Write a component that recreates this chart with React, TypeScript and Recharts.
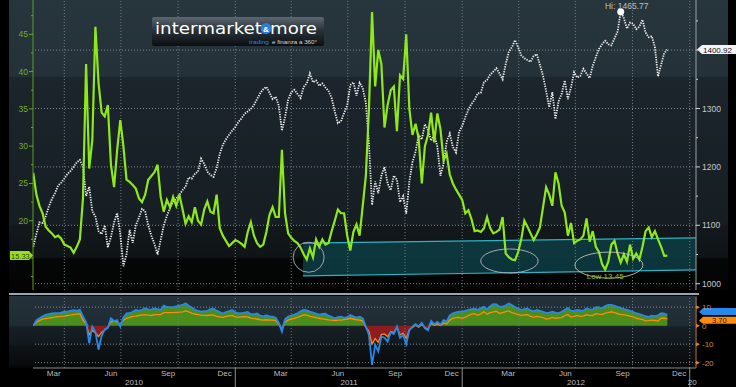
import React from 'react';
import { ComposedChart, Line, Area, XAxis, YAxis, ReferenceLine, ReferenceDot } from 'recharts';

// samples every 5 days, counted in days from 1 Jan 2010
const FIRST_DAY = 40;
const STEP_DAYS = 5;

const vix = [
  26.4, 23.5, 22.0, 21.0, 19.2, 18.7, 18.3, 17.8, 18.0, 17.6,
  16.8, 16.6, 16.4, 15.7, 16.5, 17.5, 23.0, 41.0, 27.0, 30.8,
  46.0, 38.5, 34.5, 34.0, 35.5, 27.5, 24.5, 29.5, 33.5, 30.0,
  25.5, 25.2, 24.8, 24.3, 23.0, 22.5, 23.5, 25.5, 26.0, 26.5,
  27.5, 23.2, 21.2, 22.8, 21.8, 23.2, 22.0, 23.5, 21.6, 19.6,
  20.6, 19.8, 21.8, 20.0, 19.5, 21.5, 22.6, 21.2, 21.0, 23.5,
  19.0, 18.0, 17.3, 16.6, 17.0, 17.4, 17.2, 16.9, 16.5, 18.5,
  19.8, 18.0, 17.0, 16.5, 16.8, 18.5, 20.8, 21.8, 20.5, 20.5,
  29.5, 21.0, 18.3, 17.7, 17.3, 17.0, 16.4, 15.5, 14.8, 16.3,
  15.1, 17.5, 16.5, 17.5, 16.8, 17.0, 18.6, 20.0, 21.5, 21.0,
  21.0, 18.0, 16.0, 18.5, 19.5, 18.0, 22.0, 26.0, 35.0, 48.0,
  38.0, 42.9, 41.0, 32.5, 35.5, 37.5, 38.0, 32.0, 39.5, 39.0,
  45.0, 35.0, 31.5, 33.0, 31.0, 25.0, 30.0, 31.5, 34.5, 30.5,
  34.4, 32.3, 28.1, 29.0, 26.2, 25.0, 24.2, 23.5, 22.8, 21.0,
  21.4, 20.2, 18.6, 18.7, 18.5, 19.0, 20.5, 19.0, 18.3, 18.5,
  18.8, 20.5, 15.6, 15.1, 14.8, 14.7, 15.8, 17.5, 20.0, 19.2,
  18.3, 17.4, 18.2, 19.1, 21.8, 24.5, 23.5, 22.0, 26.5, 25.0,
  22.0, 21.1, 18.0, 19.7, 17.0, 17.3, 17.5, 18.0, 20.3, 17.2,
  18.6, 16.5, 15.8, 14.2, 13.45, 14.5, 16.8, 17.3, 15.6, 14.4,
  15.5, 14.5, 16.8, 14.9, 15.6, 14.8, 16.5, 18.6, 19.1, 17.8,
  18.6, 17.5, 16.5, 15.3, 15.33,
];

const spx = [
  1063, 1085, 1105, 1104, 1115, 1132, 1145, 1155, 1168, 1173,
  1180, 1188, 1193, 1200, 1208, 1212, 1200, 1150, 1166, 1124,
  1115, 1090, 1085, 1100, 1062, 1080, 1105, 1121, 1085, 1030,
  1050, 1092, 1070, 1100, 1113, 1128, 1124, 1100, 1082, 1068,
  1050, 1075, 1100, 1116, 1130, 1140, 1146, 1152, 1160, 1166,
  1182, 1180, 1188, 1192, 1214, 1205, 1192, 1186, 1183, 1198,
  1222, 1238, 1247, 1255, 1262, 1268, 1277, 1283, 1291, 1295,
  1299, 1306, 1316, 1326, 1333, 1337, 1327, 1316, 1320, 1305,
  1262, 1285, 1315, 1328, 1332, 1325, 1318, 1337, 1343, 1360,
  1345, 1348, 1339, 1343, 1336, 1330, 1318, 1295, 1275, 1278,
  1292, 1305, 1340, 1345, 1322, 1344, 1335, 1310, 1240, 1135,
  1175, 1155, 1185, 1200, 1172, 1160, 1185, 1178, 1140, 1150,
  1120, 1175, 1208, 1226, 1255, 1247, 1273, 1263, 1245, 1255,
  1235, 1185, 1205, 1243, 1257, 1234, 1225, 1260, 1270, 1285,
  1298, 1308, 1315, 1326, 1327, 1345, 1349, 1358, 1363, 1369,
  1360, 1350, 1376, 1397, 1405, 1417, 1405, 1391, 1386, 1383,
  1380, 1390, 1393, 1375, 1356, 1330, 1302, 1328, 1282, 1312,
  1325, 1348, 1316, 1336, 1362, 1353, 1356, 1368, 1360, 1352,
  1373, 1388, 1402, 1410, 1416, 1410, 1408, 1420, 1432, 1465.77,
  1455, 1437, 1447, 1445, 1436, 1440, 1452, 1430, 1422, 1424,
  1405, 1355, 1375, 1395, 1400.92,
];

// lower panel: blue oscillator and its orange signal line
const oscBlue = [
  0, 2.8, 4.0, 5.0, 5.8, 6.3, 6.6, 6.7, 6.7, 7.1,
  7.6, 7.6, 8.0, 8.4, 8.0, 8.5, 5.0, 2.0, -9.5, -0.5,
  -3.5, -13.0, -5.5, -2.0, -1.2, 4.0, 2.5, 3.0, -0.5, 4.5,
  6.6, 6.7, 7.5, 8.5, 8.0, 8.6, 9.4, 8.8, 8.7, 9.3,
  9.0, 8.5, 10.8, 10.0, 10.0, 10.0, 10.4, 10.8, 11.2, 12.1,
  10.8, 9.8, 8.6, 8.0, 7.6, 7.8, 8.0, 8.9, 9.2, 8.1,
  7.3, 6.6, 7.4, 7.9, 8.5, 7.2, 6.7, 6.7, 7.1, 7.4,
  6.2, 6.2, 6.6, 5.5, 5.0, 5.6, 5.0, 4.9, 4.3, 1.5,
  -3.2, 3.5, 4.9, 5.5, 6.0, 6.6, 7.8, 8.5, 8.3, 7.6,
  7.1, 6.5, 6.0, 6.3, 6.5, 5.4, 4.8, 4.0, 4.6, 4.8,
  4.2, 4.6, 5.7, 5.0, 4.4, 4.9, 4.0, -0.5, -5.0, -21.2,
  -10.4, -14.0, -6.0, -6.5, -8.6, -3.5, -4.5, -0.5, -6.6, -5.0,
  -10.0, -2.5, -0.6, 0.8, -0.5, 1.5, -1.5, -2.5, 2.5, 0.8,
  2.0, 0.6, 3.0, 2.3, 5.6, 6.7, 7.2, 7.6, 7.6, 8.0,
  8.6, 9.0, 9.2, 8.5, 9.5, 10.2, 8.8, 10.5, 11.6, 11.5,
  10.3, 10.3, 11.0, 12.0, 11.2, 10.0, 9.3, 8.6, 9.0, 9.3,
  8.2, 7.8, 8.5, 8.0, 7.5, 6.9, 7.0, 7.6, 7.0, 6.8,
  7.5, 8.6, 9.5, 8.0, 8.1, 8.5, 8.2, 8.1, 9.3, 8.8,
  8.7, 10.0, 9.9, 9.4, 10.6, 11.2, 11.2, 10.7, 10.2, 9.6,
  9.0, 8.5, 8.0, 7.4, 6.8, 6.3, 5.7, 5.1, 4.8, 5.4,
  5.2, 5.6, 6.7, 6.5, 5.8,
];

const oscOrange = [
  0, 1.8, 2.8, 3.5, 3.8, 4.1, 4.4, 4.6, 4.9, 5.0,
  5.2, 5.5, 5.7, 6.0, 6.2, 6.5, 3.0, 1.0, -5.0, -2.5,
  -4.0, -6.0, -3.5, -2.5, -1.0, 2.0, 2.5, 2.0, 0.5, 3.0,
  4.0, 4.5, 5.0, 5.2, 5.5, 5.8, 6.0, 5.7, 5.5, 6.0,
  6.0, 6.0, 7.0, 7.0, 7.0, 7.0, 7.2, 7.3, 7.5, 8.0,
  7.4, 6.8, 6.3, 6.0, 5.7, 5.6, 5.5, 5.8, 5.7, 5.0,
  4.7, 4.5, 5.0, 5.3, 5.5, 4.8, 4.5, 4.7, 4.9, 4.8,
  4.1, 3.8, 3.6, 3.2, 3.0, 3.2, 3.0, 3.0, 2.8, 0.8,
  -2.0, 1.8, 3.0, 3.5, 4.0, 4.5, 5.2, 5.8, 5.7, 5.0,
  4.7, 4.4, 4.0, 3.7, 3.4, 3.1, 3.0, 2.8, 3.0, 3.0,
  3.3, 3.6, 4.0, 3.6, 3.2, 3.0, 2.6, -1.0, -3.0, -10.0,
  -7.0, -9.0, -4.8, -4.5, -6.0, -3.2, -3.8, -1.0, -5.0, -4.0,
  -6.8, -2.2, -1.0, 0.2, -0.8, 0.6, -1.0, -2.0, 1.6, 0.2,
  1.0, 0.1, 1.4, 1.0, 3.0, 4.0, 4.3, 4.5, 4.0, 4.6,
  5.5, 6.2, 6.5, 5.6, 6.4, 7.5, 6.2, 7.0, 7.5, 7.8,
  6.6, 7.0, 7.6, 8.0, 7.0, 6.5, 6.0, 5.6, 5.8, 6.0,
  5.0, 4.6, 5.0, 4.8, 4.4, 3.6, 3.8, 4.5, 4.0, 4.2,
  4.4, 5.5, 6.0, 4.6, 5.0, 5.5, 5.0, 5.2, 6.0, 5.6,
  5.5, 6.5, 6.2, 6.0, 6.8, 7.0, 7.5, 7.0, 6.5, 6.0,
  6.0, 5.5, 5.2, 4.8, 4.0, 3.7, 3.3, 2.6, 2.7, 3.0,
  2.8, 2.5, 4.0, 4.0, 3.7,
];

const days = vix.map((_, i) => FIRST_DAY + i * STEP_DAYS);

// x axis: month labels sit mid-month, grid at quarter starts
const monthDays = [73, 165, 257, 348, 438, 530, 622, 713, 804, 896, 988, 1079];
const monthNames = ['Mar', 'Jun', 'Sep', 'Dec', 'Mar', 'Jun', 'Sep', 'Dec', 'Mar', 'Jun', 'Sep', 'Dec'];
const quarterStarts = [90, 181, 273, 365, 455, 546, 638, 730, 821, 912, 1004, 1096];
const yearDays = [202, 548, 913, 1100];
const yearNames = ['2010', '2011', '2012', '20'];
const yearBreaks = [365, 730, 1096];

const vixTicks = [12.5, 15, 17.5, 20, 22.5, 25, 27.5, 30, 32.5, 35, 37.5, 40, 42.5, 45, 47.5];
const spxTicks = [1000, 1050, 1100, 1150, 1200, 1250, 1300, 1350, 1400, 1450];
const spxGrid = [1000, 1100, 1200, 1300, 1400];
const oscTicks = [-20, -10, 0, 10];

// support channel drawn on the VIX scale
const channelDays = [474, 1106];
const channelLow = [12.6, 13.4];
const channelHigh = [17.0, 17.7];

// hand-drawn circles around the VIX lows
const circleDays = [483, 806, 966];
const circleVix = [15.1, 14.6, 14.05];

const X_DOMAIN: [number, number] = [39.6, 1106.1];
const FONT = 'Liberation Sans, Arial, sans-serif';

const rows = days.map((d, i) => ({
  d,
  vix: vix[i],
  spx: spx[i],
  blue: oscBlue[i],
  orange: oscOrange[i],
  pos: Math.max(oscBlue[i], 0),
  neg: Math.min(oscOrange[i], 0),
}));

const channelRows = channelDays.map((d, i) => ({ d, band: [channelLow[i], channelHigh[i]] }));

const hiIdx = spx.indexOf(Math.max(...spx));
const loIdx = vix.indexOf(Math.min(...vix));
const last = rows.length - 1;

const circleRadii = [[15.5, 15], [28.7, 12], [34, 13]];
const circleColors = ['#b9b9c4', '#c0bcc8', '#c8c8b0'];

const VixTick = (props: any) => {
  const { x, y, payload } = props;
  const major = payload.value % 5 === 0;
  // the last-value tag covers the label next to it
  const hidden = Math.abs(payload.value - vix[last]) < 1.5;
  return (
    <g>
      <line x1={x - (major ? 4 : 2)} x2={x} y1={y} y2={y} stroke="#6aa81e" />
      {major && !hidden && (
        <text x={x - 5} y={y + 3} textAnchor="end" fill="#72ad26" fontSize={8.5} fontFamily={FONT}>
          {payload.value}
        </text>
      )}
    </g>
  );
};

const SpxTick = (props: any) => {
  const { x, y, payload } = props;
  const major = payload.value % 100 === 0;
  const hidden = Math.abs(payload.value - spx[last]) < 20;
  return (
    <g>
      <line x1={x} x2={x + (major ? 4 : 2)} y1={y} y2={y} stroke="#d0d0d0" />
      {major && !hidden && (
        <text x={x + 6} y={y + 3} fill="#c8c8c8" fontSize={8.5} fontFamily={FONT}>
          {payload.value}
        </text>
      )}
    </g>
  );
};

const OscTick = (props: any) => {
  const { x, y, payload } = props;
  const hidden = Math.abs(payload.value - oscOrange[last]) < 3;
  return (
    <g>
      <path d={`M${x},${y - 2} L${x + 4},${y} L${x},${y + 2} Z`} fill="#e0801c" />
      {!hidden && (
        <text x={x + 6} y={y + 3} fill="#d88a3a" fontSize={8} fontFamily={FONT}>
          {payload.value}
        </text>
      )}
    </g>
  );
};

const MonthTick = (props: any) => {
  const { x, y, payload } = props;
  const i = monthDays.indexOf(payload.value);
  return (
    <text x={x} y={y + 8} textAnchor="middle" fill="#bdbdbd" fontSize={8} fontFamily={FONT}>
      {monthNames[i]}
    </text>
  );
};

const YearTick = (props: any) => {
  const { x, y, payload } = props;
  if (yearBreaks.includes(payload.value)) {
    return <line x1={x} x2={x} y1={y - 10} y2={y + 9} stroke="#8d8d8d" />;
  }
  const i = yearDays.indexOf(payload.value);
  return (
    <text x={x} y={y + 7} textAnchor="middle" fill="#bdbdbd" fontSize={8} fontFamily={FONT}>
      {yearNames[i]}
    </text>
  );
};

const MAIN_BG =
  'linear-gradient(to bottom, #27353d 0px, #243139 76px, #1b252b 78px, #161e23 224px, #12181c 226px, #0f1417 257px, #050606 259px, #040404 290px)';
const LOWER_BG =
  'linear-gradient(to bottom, #24313a 0px, #202c33 29px, #172026 31px, #12191d 48px, #0e1316 50px, #0a0d0f 66px, #050505 72px)';

const MainChart = () => (
  <ComposedChart width={736} height={290} data={rows} margin={{ top: 0, right: 0, bottom: 0, left: 0 }}>
    <XAxis type="number" dataKey="d" domain={X_DOMAIN} allowDataOverflow hide />
    <YAxis
      yAxisId="vix"
      orientation="left"
      width={33}
      domain={[10.71, 49.6]}
      allowDataOverflow
      ticks={vixTicks}
      interval={0}
      tick={<VixTick />}
      tickLine={false}
      tickSize={0}
      tickMargin={0}
      axisLine={{ stroke: '#5f9e1c' }}
    />
    <YAxis
      yAxisId="spx"
      orientation="right"
      width={40}
      domain={[989.2, 1485.8]}
      allowDataOverflow
      ticks={spxTicks}
      interval={0}
      tick={<SpxTick />}
      tickLine={false}
      tickSize={0}
      tickMargin={0}
      axisLine={{ stroke: '#9aa0a4' }}
    />
    {spxGrid.map((v) => (
      <ReferenceLine key={`h${v}`} yAxisId="spx" y={v} stroke="#7d8a90" strokeDasharray="1 2" />
    ))}
    {quarterStarts.map((d) => (
      <ReferenceLine key={`v${d}`} yAxisId="vix" x={d} stroke="#6f7c82" strokeDasharray="1 2" />
    ))}
    <Area
      yAxisId="vix"
      data={channelRows}
      dataKey="band"
      type="linear"
      stroke="#2bb4c4"
      strokeWidth={1.2}
      fill="#0d3b41"
      fillOpacity={0.9}
      isAnimationActive={false}
    />
    <Line
      yAxisId="spx"
      dataKey="spx"
      type="linear"
      stroke="#f2f2f2"
      strokeWidth={1.8}
      strokeDasharray="1.3 1.2"
      dot={false}
      isAnimationActive={false}
    />
    <Line
      yAxisId="vix"
      dataKey="vix"
      type="linear"
      stroke="#8fe81a"
      strokeWidth={2.2}
      dot={false}
      isAnimationActive={false}
    />
    {circleDays.map((d, i) => (
      <ReferenceDot
        key={`c${d}`}
        yAxisId="vix"
        x={d}
        y={circleVix[i]}
        shape={(p: any) => (
          <ellipse
            cx={p.cx}
            cy={p.cy}
            rx={circleRadii[i][0]}
            ry={circleRadii[i][1]}
            fill="none"
            stroke={circleColors[i]}
            strokeWidth={1}
            strokeOpacity={0.85}
          />
        )}
      />
    ))}
    <ReferenceDot
      yAxisId="vix"
      x={days[loIdx]}
      y={vix[loIdx]}
      shape={(p: any) => (
        <text x={p.cx} y={p.cy + 9.5} textAnchor="middle" fill="#8cc21c" fontSize={8} fontFamily={FONT}>
          {`Low  ${vix[loIdx].toFixed(2)}`}
        </text>
      )}
    />
    <ReferenceDot
      yAxisId="spx"
      x={days[hiIdx]}
      y={spx[hiIdx]}
      shape={(p: any) => (
        <g>
          <circle cx={p.cx} cy={p.cy} r={3.5} fill="#ffffff" />
          <text x={p.cx + 6} y={p.cy - 3} textAnchor="middle" fill="#b7c0c6" fontSize={8.5} fontFamily={FONT}>
            {`Hi: ${spx[hiIdx].toFixed(2)}`}
          </text>
        </g>
      )}
    />
    <ReferenceDot
      yAxisId="spx"
      x={days[last]}
      y={spx[last]}
      shape={(p: any) => (
        <g>
          <path d={`M697,${p.cy} L702,${p.cy - 4.5} L736,${p.cy - 4.5} L736,${p.cy + 4.5} L702,${p.cy + 4.5} Z`} fill="#f4f4f4" />
          <text x={703} y={p.cy + 3} fill="#111" fontSize={8} fontFamily={FONT}>
            {spx[last].toFixed(2)}
          </text>
        </g>
      )}
    />
    <ReferenceDot
      yAxisId="vix"
      x={days[last]}
      y={vix[last]}
      shape={(p: any) => (
        <g>
          <path d={`M10,${p.cy - 4.5} L29,${p.cy - 4.5} L33,${p.cy} L29,${p.cy + 4.5} L10,${p.cy + 4.5} Z`} fill="#98e01c" />
          <text x={11} y={p.cy + 3} fill="#2b4a08" fontSize={7.5} fontFamily={FONT}>
            {vix[last].toFixed(2)}
          </text>
        </g>
      )}
    />
  </ComposedChart>
);

const LowerChart = () => (
  <ComposedChart width={736} height={97} data={rows} margin={{ top: 7, right: 0, bottom: 0, left: 33 }}>
    <XAxis
      xAxisId="m"
      type="number"
      dataKey="d"
      domain={X_DOMAIN}
      allowDataOverflow
      ticks={monthDays}
      interval={0}
      tick={<MonthTick />}
      tickLine={false}
      tickSize={0}
      tickMargin={0}
      height={10}
      axisLine={{ stroke: '#8a8a8a' }}
    />
    <XAxis
      xAxisId="y"
      type="number"
      dataKey="d"
      domain={X_DOMAIN}
      allowDataOverflow
      ticks={[...yearDays, ...yearBreaks].sort((a, b) => a - b)}
      interval={0}
      tick={<YearTick />}
      tickLine={false}
      tickSize={0}
      tickMargin={0}
      height={9}
      axisLine={false}
    />
    <YAxis
      yAxisId="osc"
      orientation="right"
      width={40}
      domain={[-22.9, 15.5]}
      allowDataOverflow
      ticks={oscTicks}
      interval={0}
      tick={<OscTick />}
      tickLine={false}
      tickSize={0}
      tickMargin={0}
      axisLine={{ stroke: '#b8681c' }}
    />
    {[-20, -10, 10].map((v) => (
      <ReferenceLine key={`o${v}`} xAxisId="m" yAxisId="osc" y={v} stroke="#7d8a90" strokeDasharray="1 2" />
    ))}
    {quarterStarts.map((d) => (
      <ReferenceLine key={`q${d}`} xAxisId="m" yAxisId="osc" x={d} stroke="#6f7c82" strokeDasharray="1 2" />
    ))}
    <Area
      xAxisId="m"
      yAxisId="osc"
      dataKey="pos"
      type="linear"
      baseValue={0}
      stroke="none"
      fill="#4b8e1c"
      fillOpacity={1}
      isAnimationActive={false}
    />
    <Area
      xAxisId="m"
      yAxisId="osc"
      dataKey="neg"
      type="linear"
      baseValue={0}
      stroke="none"
      fill="#8c1c1e"
      fillOpacity={1}
      isAnimationActive={false}
    />
    <Line
      xAxisId="m"
      yAxisId="osc"
      dataKey="orange"
      type="linear"
      stroke="#ff8a10"
      strokeWidth={1.3}
      dot={false}
      isAnimationActive={false}
    />
    <Line
      xAxisId="m"
      yAxisId="osc"
      dataKey="blue"
      type="linear"
      stroke="#2489ec"
      strokeWidth={1.8}
      dot={false}
      isAnimationActive={false}
    />
    <ReferenceDot
      xAxisId="m"
      yAxisId="osc"
      x={days[last]}
      y={oscBlue[last]}
      shape={(p: any) => (
        <path d={`M699,${p.cy - 3} L703,${p.cy - 7} L736,${p.cy - 7} L736,${p.cy} L703,${p.cy} Z`} fill="#2489ec" />
      )}
    />
    <ReferenceDot
      xAxisId="m"
      yAxisId="osc"
      x={days[last]}
      y={oscOrange[last]}
      shape={(p: any) => (
        <g>
          <path d={`M699,${p.cy + 2} L703,${p.cy - 2} L736,${p.cy - 2} L736,${p.cy + 5} L703,${p.cy + 5} Z`} fill="#ff8a10" />
          <text x={712} y={p.cy + 4.5} fill="#3a1a00" fontSize={7.5} fontFamily={FONT}>
            {oscOrange[last].toFixed(2)}
          </text>
        </g>
      )}
    />
  </ComposedChart>
);

const Logo = () => (
  <div
    style={{
      position: 'absolute',
      left: 152,
      top: 17,
      width: 172,
      height: 29,
      borderRadius: 2,
      background: 'linear-gradient(to bottom, #5c6770 0%, #2a333a 45%, #0b0e11 100%)',
    }}
  >
    <svg width={172} height={29}>
      <text x={3} y={17} fill="#ffffff" fontSize={16} fontFamily="DejaVu Sans, sans-serif" textLength={107} lengthAdjust="spacingAndGlyphs">
        intermarket
      </text>
      <circle cx={114} cy={11.5} r={5.5} fill="#2f7fd8" />
      <text x={114} y={14.5} textAnchor="middle" fill="#ffffff" fontSize={8} fontWeight="bold" fontFamily={FONT}>
        &amp;
      </text>
      <text x={118} y={17} fill="#ffffff" fontSize={16} fontFamily="DejaVu Sans, sans-serif" textLength={47} lengthAdjust="spacingAndGlyphs">
        more
      </text>
      <text x={97} y={27} fill="#2f7fe0" fontSize={5.5} fontFamily={FONT} textLength={20} lengthAdjust="spacingAndGlyphs">
        trading
      </text>
      <text x={120} y={27} fill="#d6d6d6" fontSize={5.5} fontFamily={FONT} textLength={45} lengthAdjust="spacingAndGlyphs">
        e finanza a 360°
      </text>
    </svg>
  </div>
);

export default function App() {
  return (
    <div style={{ position: 'absolute', left: 0, top: 0, width: 736, height: 387, background: '#000', overflow: 'hidden' }}>
      <div style={{ position: 'absolute', left: 9, top: 0, width: 719, height: 290, background: MAIN_BG }} />
      <div style={{ position: 'absolute', left: 9, top: 296, width: 688, height: 72, background: LOWER_BG }} />
      <div style={{ position: 'absolute', left: 9, top: 293, width: 690, height: 2, background: '#9aa6ad' }} />
      <div style={{ position: 'absolute', left: 0, top: 0 }}>
        <MainChart />
      </div>
      <div style={{ position: 'absolute', left: 0, top: 290 }}>
        <LowerChart />
      </div>
      <Logo />
    </div>
  );
}
